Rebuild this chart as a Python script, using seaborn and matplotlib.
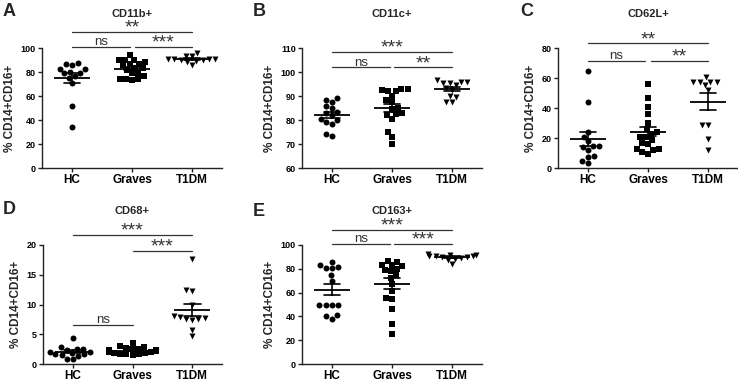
import numpy as np
import pandas as pd
import matplotlib
matplotlib.use("Agg")
import matplotlib.pyplot as plt
import seaborn as sns

groups = ["HC", "Graves", "T1DM"]
ylabel = "% CD14+CD16+"

# Panel A: CD11b+
a_hc = [87.4, 86.0, 86.9, 82.4, 82.4, 79.1, 79.1, 80.4, 76.8, 75.4, 71.2, 51.7, 34.4]
a_gr = [94, 90, 88.5, 90, 90, 86.5, 85.5, 87, 83, 83.5, 82, 79, 79.5, 76.5, 74.5, 74, 73.5, 74]
a_t1 = [95.5, 93.5, 93, 91, 90.5, 90.5, 90, 90, 90.5, 89.5, 88.5, 86]

# Panel B: CD11c+
b_hc = [89, 88.5, 87.5, 86, 85, 83.5, 83, 82, 80.5, 80, 79, 78.5, 74, 73.5]
b_gr = [93, 92.5, 92, 92, 93, 90, 88.5, 87.5, 85, 84.5, 83, 82.5, 82, 80.5, 75, 73, 70]
b_t1 = [96, 96.5, 96, 95.5, 95.5, 94.5, 93.5, 92.5, 90, 89.5, 87.5, 87.5]

# Panel C: CD62L+
c_hc = [65, 44, 24, 21, 18, 15, 14.5, 14, 12, 7.5, 8, 5, 3.5]
c_gr = [56, 47, 41, 36, 30, 26, 24, 23, 21, 20.5, 19, 17, 16, 13, 12, 11, 12.5, 9.5]
c_t1 = [60.5, 57.5, 57.5, 57.5, 57.5, 55.5, 52, 28.5, 28.5, 19.5, 12]

# Panel D: CD68+
d_hc = [4.4, 2.8, 2.6, 2.5, 2.3, 2.1, 2.0, 1.9, 1.7, 1.6, 1.5, 1.4, 0.9, 0.8]
d_gr = [3.6, 3.0, 2.9, 2.7, 2.6, 2.5, 2.4, 2.3, 2.2, 2.1, 2.0, 1.9, 1.8, 1.7, 1.6, 1.6, 1.5]
d_t1 = [17.7, 12.4, 12.3, 9.9, 8.0, 7.9, 7.7, 7.6, 7.5, 7.4, 5.7, 4.7]

# Panel E: CD163+
e_hc = [86, 83.5, 81.5, 81, 80.5, 75, 70, 50, 50, 49.5, 49.5, 41, 40, 38]
e_gr = [86.5, 86, 83, 83, 82.5, 80, 79, 78, 75, 72, 67, 61, 55.5, 55, 46, 34, 25]
e_t1 = [92.5, 92, 91.5, 91, 91, 90.5, 90, 89.5, 89, 88.5, 87.5, 84]

titles = ["CD11b+", "CD11c+", "CD62L+", "CD68+", "CD163+"]
letters = ["A", "B", "C", "D", "E"]

sns.set_style("ticks")
plt.rcParams["font.family"] = ["Liberation Sans", "DejaVu Sans"]

W, H = 738, 384
fig = plt.figure(figsize=(W / 100, H / 100), dpi=100)

def px_axes(left, top, right, bottom):
    return fig.add_axes([left / W, 1 - bottom / H, (right - left) / W, (bottom - top) / H])

panels = [
    dict(data=(a_hc, a_gr, a_t1), box=(42, 48, 222, 168), ylim=(0, 100), ticks=np.arange(0, 101, 20),
         sig=[(0, 2, 113.3, "**"), (0, 0.97, 100.8, "ns"), (1.05, 2, 100.8, "***")],
         letter=(3, 12)),
    dict(data=(b_hc, b_gr, b_t1), box=(302, 48, 482, 168), ylim=(60, 110), ticks=np.arange(60, 111, 10),
         sig=[(0, 2, 108.5, "***"), (0, 0.97, 102, "ns"), (1.03, 2, 102, "**")],
         letter=(253, 12)),
    dict(data=(c_hc, c_gr, c_t1), box=(558, 48, 738, 168), ylim=(0, 80), ticks=np.arange(0, 81, 20),
         sig=[(0, 2, 83.1, "**"), (0, 0.95, 71.5, "ns"), (1.05, 2, 71.5, "**")],
         letter=(520, 12)),
    dict(data=(d_hc, d_gr, d_t1), box=(43, 245, 222, 364), ylim=(0, 20), ticks=np.arange(0, 21, 5),
         sig=[(0, 2, 21.7, "***"), (1.0, 2, 19.0, "***"), (0, 1, 6.55, "ns")],
         letter=(3, 209)),
    dict(data=(e_hc, e_gr, e_t1), box=(302, 245, 482, 364), ylim=(0, 100), ticks=np.arange(0, 101, 20),
         sig=[(0, 2, 112.6, "***"), (0, 0.97, 101, "ns"), (1.03, 2, 101, "***")],
         letter=(253, 211)),
]

markers = {"HC": "o", "Graves": "s", "T1DM": "v"}

for i, p in enumerate(panels):
    ax = px_axes(*p["box"])
    rows = []
    for g, vals in zip(groups, p["data"]):
        for v in vals:
            rows.append((g, v))
    df = pd.DataFrame(rows, columns=["group", "value"])
    for g in groups:
        sub = df[df["group"] == g]
        n0 = len(ax.collections)
        sns.swarmplot(data=sub, x="group", y="value", order=groups, marker=markers[g],
                      color="black", size=5.6, linewidth=0, ax=ax, zorder=2)
        for coll in ax.collections[n0:]:
            coll.set_sizes([4.3 ** 2])
    sns.pointplot(data=df, x="group", y="value", order=groups, errorbar="se", capsize=0.28,
                  color="black", marker="_", markersize=26, markeredgewidth=1.3,
                  linestyle="none", err_kws={"linewidth": 1.2}, ax=ax, zorder=3)
    ax.set_ylim(*p["ylim"])
    ax.set_xlim(-0.5, 2.5)
    ax.set_yticks(p["ticks"])
    ax.set_yticklabels([str(int(t)) for t in p["ticks"]], fontsize=6.5, fontweight="bold")
    ax.set_xticks(range(3))
    ax.set_xticklabels(groups, fontsize=8.5, fontweight="bold")
    ax.set_xlabel("")
    ax.set_ylabel(ylabel, fontsize=8.5, fontweight="bold", labelpad=3)
    ax.set_title(titles[i], fontsize=8, fontweight="bold", pad=22)
    sns.despine(ax=ax)
    for s in ["left", "bottom"]:
        ax.spines[s].set_linewidth(1.0)
        ax.spines[s].set_color("#222222")
    ax.tick_params(axis="both", length=3, width=1.0, pad=1.5, colors="#222222", labelcolor="black")
    for x1, x2, y, t in p["sig"]:
        ax.plot([x1, x2], [y, y], color="#333333", lw=0.9, clip_on=False)
        xc = (x1 + x2) / 2
        if t == "ns":
            ax.annotate(t, xy=(xc, y), xytext=(0, 1.2), textcoords="offset points",
                        ha="center", va="baseline", fontsize=9.5, color="#333333",
                        annotation_clip=False)
        else:
            ax.annotate(t, xy=(xc, y), xytext=(0, -0.6), textcoords="offset points",
                        ha="center", va="baseline", fontsize=14, color="#333333",
                        annotation_clip=False)
    lx, ly = p["letter"]
    fig.text(lx / W, 1 - ly / H, letters[i], fontsize=13, fontweight="bold",
             ha="left", va="center")

fig.savefig("out.png", dpi=100)
